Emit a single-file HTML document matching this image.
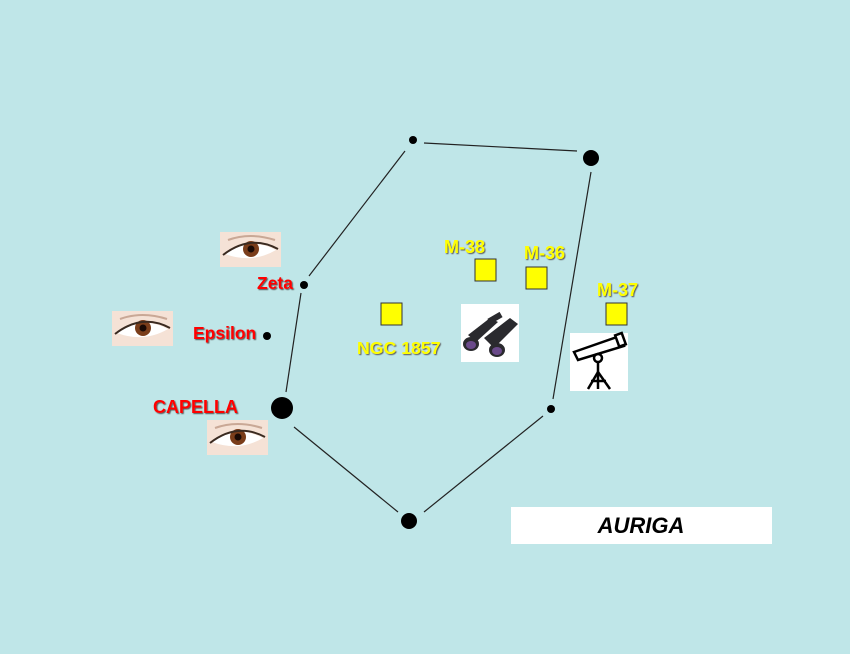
<!DOCTYPE html>
<html><head><meta charset="utf-8"><style>
html,body{margin:0;padding:0;background:#bfe6e8;}
svg{display:block}
.r{font-family:"Liberation Sans",sans-serif;font-weight:bold;fill:#ff0000;}
.y{font-family:"Liberation Sans",sans-serif;font-weight:bold;fill:#ffff00;}
</style></head><body>
<svg width="850" height="654" viewBox="0 0 850 654" xmlns="http://www.w3.org/2000/svg">
<rect width="850" height="654" fill="#bfe6e8"/>
<defs>
<filter id="sh" x="-10%" y="-20%" width="130%" height="150%"><feDropShadow dx="1" dy="1" stdDeviation="0.4" flood-color="#555"/></filter>
<g id="eye">
<rect width="61" height="35" fill="#f5e2d6"/>
<path d="M5 22 Q30 4 56 18 Q32 32 5 22Z" fill="#fff"/>
<circle cx="31" cy="17" r="8" fill="#7a3d1a"/>
<circle cx="31" cy="17" r="3.5" fill="#1a0a05"/>
<path d="M3 23 Q30 2 58 17" stroke="#3a2a20" stroke-width="2" fill="none"/>
<path d="M8 8 Q30 0 55 8" stroke="#c9a896" stroke-width="2" fill="none"/>
</g>
</defs>
<g stroke="#222" stroke-width="1.2">
<line x1="405" y1="151" x2="309" y2="276"/>
<line x1="424" y1="143" x2="577" y2="151"/>
<line x1="591" y1="172" x2="553" y2="399"/>
<line x1="301" y1="293" x2="286" y2="392"/>
<line x1="294" y1="427" x2="398" y2="512"/>
<line x1="424" y1="512" x2="543" y2="416"/>
</g>
<g fill="#000">
<circle cx="413" cy="140" r="4"/>
<circle cx="591" cy="158" r="8"/>
<circle cx="304" cy="285" r="4"/>
<circle cx="267" cy="336" r="4"/>
<circle cx="282" cy="408" r="11"/>
<circle cx="409" cy="521" r="8"/>
<circle cx="551" cy="409" r="4"/>
</g>
<use href="#eye" x="220" y="232"/>
<use href="#eye" x="112" y="311"/>
<use href="#eye" x="207" y="420"/>
<g filter="url(#sh)">
<text class="r" x="257" y="289" font-size="17.5">Zeta</text>
<text class="r" x="193" y="339" font-size="17.5">Epsilon</text>
<text class="r" x="153" y="413" font-size="18">CAPELLA</text>
<text class="y" x="444" y="253" font-size="18">M-38</text>
<text class="y" x="524" y="259" font-size="18">M-36</text>
<text class="y" x="597" y="296" font-size="18">M-37</text>
<text class="y" x="357" y="354" font-size="17.7">NGC 1857</text>
</g>
<g fill="#ffff00" stroke="#333" stroke-width="1">
<rect x="475" y="259" width="21" height="22"/>
<rect x="526" y="267" width="21" height="22"/>
<rect x="381" y="303" width="21" height="22"/>
<rect x="606" y="303" width="21" height="22"/>
</g>
<rect x="461" y="304" width="58" height="58" fill="#fff"/>
<g fill="#2a2a2e">
<path d="M468 335 L490 318 L498 322 L476 342Z"/>
<path d="M484 338 L510 318 L518 324 L494 348Z"/>
<rect x="488" y="315" width="14" height="6" transform="rotate(-30 495 318)"/>
<ellipse cx="471" cy="344" rx="8" ry="7"/>
<ellipse cx="497" cy="350" rx="8" ry="7"/>
</g>
<ellipse cx="471" cy="345" rx="5" ry="4" fill="#6a4a8a"/>
<ellipse cx="497" cy="351" rx="5" ry="4" fill="#6a4a8a"/>
<rect x="570" y="333" width="58" height="58" fill="#fff"/>
<g stroke="#000" stroke-width="2.5" fill="none">
<path d="M574 352 L620 336 L624 346 L578 360Z" fill="#fff"/>
<rect x="617" y="334" width="7" height="12" transform="rotate(-20 620 340)" fill="#fff"/>
<circle cx="598" cy="358" r="4"/>
<line x1="598" y1="362" x2="598" y2="372"/>
<line x1="598" y1="372" x2="588" y2="389"/>
<line x1="598" y1="372" x2="598" y2="389"/>
<line x1="598" y1="372" x2="610" y2="389"/>
<line x1="591" y1="381" x2="606" y2="381"/>
</g>
<rect x="511" y="507" width="261" height="37" fill="#fff"/>
<text x="641" y="533" text-anchor="middle" font-family="Liberation Sans,sans-serif" font-weight="bold" font-style="italic" font-size="22" fill="#000">AURIGA</text>
</svg>
</body></html>
